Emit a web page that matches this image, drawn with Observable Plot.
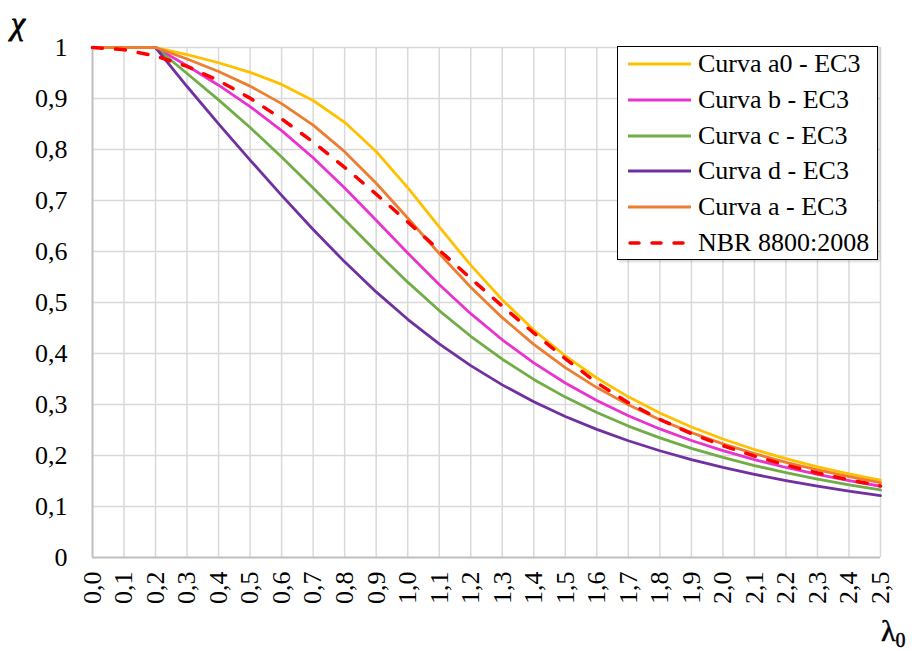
<!DOCTYPE html>
<html>
<head>
<meta charset="utf-8">
<script src="https://cdn.jsdelivr.net/npm/d3@7"></script>
<script src="https://cdn.jsdelivr.net/npm/@observablehq/plot@0.6"></script>
<style>
  body { margin: 0; background: #fff; }
  #wrap { position: relative; width: 912px; height: 651px; overflow: hidden; font-family: "Liberation Serif", "Times New Roman", serif; color: #000; }
  #wrap svg text { font-family: "Liberation Serif", "Times New Roman", serif; }
  #legend { position: absolute; left: 617px; top: 46px; width: 261px; height: 214px; border: 1px solid #000; background: #fff; box-shadow: 2px 2px 2px rgba(0,0,0,0.15); box-sizing: border-box; }
  .lg { position: absolute; left: 10px; height: 30px; display: flex; align-items: center; font-size: 26px; white-space: nowrap; }
  .lg svg { margin-right: 7px; flex: none; }
  #xlab { position: absolute; left: 881px; top: 613px; font-size: 30px; line-height: 36px; -webkit-text-stroke: 0.5px #000; }
  #xlab sub { font-size: 20px; vertical-align: -6px; }
  #ylab { position: absolute; left: 11px; top: 5px; font-size: 32px; line-height: 36px; font-style: italic; -webkit-text-stroke: 0.8px #000; }
</style>
</head>
<body>
<div id="wrap"></div>
<script>
const lambdas = [0.0,0.1,0.2,0.3,0.4,0.5,0.6,0.7,0.8,0.9,1.0,1.1,1.2,1.3,1.4,1.5,1.6,1.7,1.8,1.9,2.0,2.1,2.2,2.3,2.4,2.5];
const curveA0 = [1,1,1,0.9859,0.9701,0.9513,0.9276,0.8961,0.8533,0.7961,0.7253,0.6483,0.5732,0.5053,0.4461,0.3953,0.3520,0.3150,0.2833,0.2559,0.2323,0.2117,0.1937,0.1779,0.1639,0.1515];
const curveB  = [1,1,1,0.9641,0.9261,0.8842,0.8371,0.7837,0.7245,0.6612,0.5970,0.5352,0.4781,0.4269,0.3817,0.3422,0.3079,0.2781,0.2521,0.2294,0.2095,0.1920,0.1765,0.1628,0.1506,0.1397];
const curveC  = [1,1,1,0.9491,0.8973,0.8430,0.7854,0.7247,0.6622,0.5998,0.5399,0.4842,0.4338,0.3888,0.3492,0.3145,0.2842,0.2577,0.2345,0.2141,0.1962,0.1803,0.1662,0.1537,0.1425,0.1325];
const curveD  = [1,1,1,0.9235,0.8504,0.7793,0.7100,0.6431,0.5797,0.5208,0.4671,0.4189,0.3762,0.3385,0.3055,0.2766,0.2512,0.2289,0.2093,0.1920,0.1766,0.1630,0.1508,0.1399,0.1302,0.1214];
const curveA  = [1,1,1,0.9775,0.9528,0.9243,0.8900,0.8477,0.7957,0.7339,0.6656,0.5960,0.5300,0.4703,0.4179,0.3724,0.3332,0.2994,0.2702,0.2449,0.2229,0.2036,0.1867,0.1717,0.1585,0.1467];
const nbr     = [1,0.9958,0.9834,0.9630,0.9352,0.9007,0.8601,0.8146,0.7650,0.7125,0.6580,0.6027,0.5473,0.4930,0.4403,0.3900,0.3426,0.3035,0.2707,0.2429,0.2193,0.1989,0.1812,0.1658,0.1523,0.1403];
const seriesNames = ["Curva a0 - EC3","Curva b - EC3","Curva c - EC3","Curva d - EC3","Curva a - EC3","NBR 8800:2008"];
const seriesColors = ["#FFC000","#E833CF","#70AD47","#7030A0","#ED7D31","#FF0000"];
const yTicks = [0,0.1,0.2,0.3,0.4,0.5,0.6,0.7,0.8,0.9,1];
const xTicks = lambdas;

const allSeries = [curveA0, curveB, curveC, curveD, curveA, nbr];
const rows = [];
allSeries.forEach((vals, i) => vals.forEach((v, j) => rows.push({x: lambdas[j], y: v, s: seriesNames[i]})));
const comma = d => d3.format(".1f")(d).replace(".", ",");
const ycomma = d => (d === 0 || d === 1) ? String(d) : d3.format(".1f")(d).replace(".", ",");
const serif = "'Liberation Serif', 'Times New Roman', serif";

const lineMarks = seriesNames.slice(0,5).map((name, i) =>
  Plot.line(rows.filter(r => r.s === name), {x: "x", y: "y", stroke: seriesColors[i], strokeWidth: 2.8}));

const chart = Plot.plot({
  width: 912, height: 651,
  marginLeft: 92, marginRight: 32, marginTop: 47, marginBottom: 94,
  style: "font-family: 'Liberation Serif', 'Times New Roman', serif; font-size: 26px; color: #000; background: #fff;",
  x: {domain: [0, 2.5]},
  y: {domain: [0, 1]},
  marks: [
    Plot.gridX(xTicks.filter(d => d > 0), {stroke: "#d9d9d9", strokeOpacity: 1, strokeWidth: 1.5}),
    Plot.gridY(yTicks.filter(d => d > 0), {stroke: "#d9d9d9", strokeOpacity: 1, strokeWidth: 1.5}),
    Plot.ruleX([0], {stroke: "#bfbfbf", strokeWidth: 2}),
    Plot.ruleY([0], {stroke: "#bfbfbf", strokeWidth: 2}),
    ...lineMarks,
    Plot.line(rows.filter(r => r.s === seriesNames[5]), {x: "x", y: "y", stroke: seriesColors[5], strokeWidth: 3.5, strokeDasharray: "10,13", strokeLinecap: "round"}),
    Plot.axisY(yTicks, {tickSize: 0, tickPadding: 25, tickFormat: ycomma, fontSize: 26, fontFamily: serif, fill: "#000", label: null}),
    Plot.axisX(xTicks, {tickSize: 0, tickPadding: 14, tickRotate: -90, tickFormat: comma, fontSize: 26, fontFamily: serif, fill: "#000", label: null})
  ]
});

const wrap = document.getElementById("wrap");
wrap.appendChild(chart);

const legend = document.createElement("div");
legend.id = "legend";
seriesNames.forEach((name, i) => {
  const item = document.createElement("div");
  item.className = "lg";
  item.style.top = (2 + i * 35.8) + "px";
  const dash = i === 5 ? `stroke-dasharray="9,13" stroke-linecap="round" stroke-width="3.5"` : `stroke-width="2.8"`;
  item.innerHTML = `<svg width="63" height="10"><line x1="${i===5?2:0}" y1="5" x2="${i===5?61:63}" y2="5" stroke="${seriesColors[i]}" ${dash}/></svg><span>${name}</span>`;
  legend.appendChild(item);
});
wrap.appendChild(legend);

const ylab = document.createElement("div");
ylab.id = "ylab"; ylab.textContent = "χ";
wrap.appendChild(ylab);
const xlab = document.createElement("div");
xlab.id = "xlab"; xlab.innerHTML = "λ<sub>0</sub>";
wrap.appendChild(xlab);
</script>
</body>
</html>
